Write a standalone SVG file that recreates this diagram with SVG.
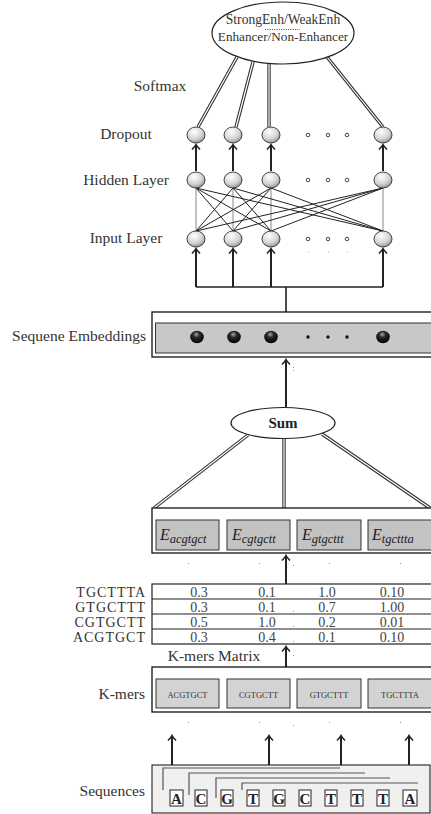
<svg xmlns="http://www.w3.org/2000/svg" width="431" height="814" viewBox="0 0 431 814">
  <style>
    .lbl { font-family: "Liberation Serif", "DejaVu Serif", serif; font-size: 15.5px; fill: #333; }
    .oval { font-family: "Liberation Serif", "DejaVu Serif", serif; font-size: 13.2px; fill: #333; text-anchor: middle; }
    .row { font-family: "Liberation Serif", "DejaVu Serif", serif; font-size: 14px; letter-spacing: 1px; fill: #333; text-anchor: end; }
    .num { font-family: "Liberation Serif", "DejaVu Serif", serif; font-size: 14px; fill: #444; text-anchor: middle; }
    .kmer { font-family: "Liberation Serif", "DejaVu Serif", serif; font-size: 8.5px; fill: #333; text-anchor: middle; }
    .emb { font-family: "Liberation Serif", "DejaVu Serif", serif; font-style: italic; fill: #222; }
    .base { font-family: "Liberation Serif", "DejaVu Serif", serif; font-weight: bold; font-size: 15px; fill: #222; text-anchor: middle; }
    .node { fill: url(#sphere); stroke: #333; stroke-width: 0.9; }
    .ball { fill: url(#blackball); }
    .dot { fill: #fff; stroke: #333; stroke-width: 0.9; }
    .speck { fill: #777; }
    .arrow { stroke: #222; stroke-width: 2; fill: none; marker-end: url(#head); }
    .dblo { stroke: #333; stroke-width: 3.4; fill: none; }
    .dbli { stroke: #fff; stroke-width: 1.2; fill: none; }
    .mesh { stroke: #222; stroke-width: 1; }
    .meshv { stroke: #888; stroke-width: 1; }
    .cell { fill: #c3c3c3; stroke: #333; stroke-width: 1; }
    .kcell { fill: #d3d3d3; stroke: #333; stroke-width: 1; }
    .frame { fill: #fff; stroke: #111; stroke-width: 1.3; }
    .bracket { stroke: #555; stroke-width: 1.2; fill: none; }
    .lbox { fill: #fff; stroke: #222; stroke-width: 1; }
  </style>
  <defs>
    <radialGradient id="sphere" cx="0.4" cy="0.3" r="0.75">
      <stop offset="0" stop-color="#ffffff"/>
      <stop offset="0.6" stop-color="#d4d4d4"/>
      <stop offset="1" stop-color="#8a8a8a"/>
    </radialGradient>
    <radialGradient id="blackball" cx="0.45" cy="0.3" r="0.7">
      <stop offset="0" stop-color="#a8a8a8"/>
      <stop offset="0.35" stop-color="#2a2a2a"/>
      <stop offset="1" stop-color="#000"/>
    </radialGradient>
    <marker id="head" viewBox="-6 -6 12 12" markerWidth="12" markerHeight="12" refX="0" refY="0" orient="auto" markerUnits="userSpaceOnUse">
      <path d="M-4.5,-4 Q-1.5,-1 0.5,0 Q-1.5,1 -4.5,4" stroke="#222" stroke-width="1.6" fill="none"/>
    </marker>
  </defs>

  <!-- connectors -->
  <g id="connectors">
    <!-- softmax double lines -->
    <g>
      <path class="dblo" d="M237,57 L198,127 M253,62 L236,127 M269,63 L269,127 M327,57 L383,127"/>
      <path class="dbli" d="M237,57 L198,127 M253,62 L236,127 M269,63 L269,127 M327,57 L383,127"/>
    </g>
    <!-- hidden to dropout -->
    <path class="arrow" d="M196,171 L196,145"/>
    <path class="arrow" d="M233,171 L233,145"/>
    <path class="arrow" d="M271,171 L271,145"/>
    <path class="arrow" d="M383,171 L383,145"/>
    <!-- fully connected input/hidden -->
    <g>
      <path class="meshv" d="M196,188 L196,231 M233,188 L233,231 M271,188 L271,231 M383,188 L383,231"/>
      <path class="mesh" d="M196,188 L233,231 M196,188 L271,231 M196,188 L383,231
                            M233,188 L196,231 M233,188 L271,231 M233,188 L383,231
                            M271,188 L196,231 M271,188 L233,231 M271,188 L383,231
                            M383,188 L196,231 M383,188 L233,231 M383,188 L271,231"/>
    </g>
    <!-- bus into input layer -->
    <path d="M196,287 L383,287 M286,287 L286,312" stroke="#222" stroke-width="1.6" fill="none"/>
    <path class="arrow" d="M196,287 L196,249"/>
    <path class="arrow" d="M233,287 L233,249"/>
    <path class="arrow" d="M271,287 L271,249"/>
    <path class="arrow" d="M383,287 L383,249"/>
    <!-- sum to embeddings -->
    <path class="arrow" d="M286,407 L286,360"/>
    <!-- E vectors to sum, double lines -->
    <g>
      <path class="dblo" d="M248,435 L154,508 M284,438 L284,508 M322,434 L430,508"/>
      <path class="dbli" d="M248,435 L154,508 M284,438 L284,508 M322,434 L430,508"/>
    </g>
    <!-- matrix to E vectors -->
    <path class="arrow" d="M286,584 L286,556"/>
    <!-- k-mers to matrix -->
    <path class="arrow" d="M286,667 L286,647"/>
    <!-- sequence windows to k-mers -->
    <path class="arrow" d="M172,768 L172,736"/>
    <path class="arrow" d="M269,773 L269,736"/>
    <path class="arrow" d="M341,778 L341,736"/>
    <path class="arrow" d="M409,783 L409,736"/>
  </g>

  <!-- output ellipse -->
  <g id="output">
    <ellipse cx="283" cy="33" rx="71" ry="31" fill="#fff" stroke="#222" stroke-width="1.2"/>
    <text class="oval" x="283" y="24" style="font-size:13.6px">StrongEnh/WeakEnh</text>
    <line x1="265" y1="29.5" x2="300" y2="29.5" stroke="#333" stroke-width="0.9" stroke-dasharray="1,1.3"/>
    <text class="oval" x="283" y="41">Enhancer/Non-Enhancer</text>
  </g>

  <g id="labels">
    <text class="lbl" x="160" y="91" text-anchor="middle">Softmax</text>
    <text class="lbl" x="126" y="139" text-anchor="middle">Dropout</text>
    <text class="lbl" x="126" y="185" text-anchor="middle">Hidden Layer</text>
    <text class="lbl" x="126" y="243" text-anchor="middle">Input Layer</text>
    <text class="lbl" x="146" y="341" text-anchor="end">Sequene Embeddings</text>
    <text class="lbl" x="214" y="661" text-anchor="middle">K-mers Matrix</text>
    <text class="lbl" x="145" y="699" text-anchor="end">K-mers</text>
    <text class="lbl" x="145" y="796" text-anchor="end">Sequences</text>
  </g>

  <!-- dropout layer -->
  <g id="dropout">
    <ellipse class="node" cx="196" cy="135" rx="9" ry="8"/>
    <ellipse class="node" cx="233" cy="135" rx="9" ry="8"/>
    <ellipse class="node" cx="271" cy="135" rx="9" ry="8"/>
    <circle class="dot" cx="308" cy="135" r="1.8"/>
    <circle class="dot" cx="328" cy="135" r="1.8"/>
    <circle class="dot" cx="347" cy="135" r="1.8"/>
    <ellipse class="node" cx="383" cy="135" rx="9" ry="8"/>
  </g>

  <!-- hidden layer -->
  <g id="hidden">
    <ellipse class="node" cx="196" cy="180" rx="9" ry="8"/>
    <ellipse class="node" cx="233" cy="180" rx="9" ry="8"/>
    <ellipse class="node" cx="271" cy="180" rx="9" ry="8"/>
    <circle class="dot" cx="308" cy="180" r="1.8"/>
    <circle class="dot" cx="328" cy="180" r="1.8"/>
    <circle class="dot" cx="347" cy="180" r="1.8"/>
    <ellipse class="node" cx="383" cy="180" rx="9" ry="8"/>
  </g>

  <!-- input layer -->
  <g id="input">
    <ellipse class="node" cx="196" cy="239" rx="9" ry="8"/>
    <ellipse class="node" cx="233" cy="239" rx="9" ry="8"/>
    <ellipse class="node" cx="271" cy="239" rx="9" ry="8"/>
    <circle class="dot" cx="308" cy="239" r="1.8"/>
    <circle class="dot" cx="328" cy="239" r="1.8"/>
    <circle class="dot" cx="347" cy="239" r="1.8"/>
    <ellipse class="node" cx="383" cy="239" rx="9" ry="8"/>
    <rect class="speck" x="308" y="251.5" width="0.8" height="0.8"/>
    <rect class="speck" x="328" y="251.5" width="0.8" height="0.8"/>
    <rect class="speck" x="347" y="251.5" width="0.8" height="0.8"/>
  </g>

  <!-- sequence embeddings -->
  <g id="embeddings">
    <rect class="frame" x="152" y="312" width="285" height="45"/>
    <rect x="155.5" y="323" width="280" height="30" fill="#c8c8c8" stroke="#333" stroke-width="1"/>
    <ellipse class="ball" cx="197" cy="337" rx="6.8" ry="6.2"/>
    <ellipse class="ball" cx="234" cy="337" rx="6.8" ry="6.2"/>
    <ellipse class="ball" cx="271" cy="337" rx="6.8" ry="6.2"/>
    <circle cx="308" cy="337" r="1.7" fill="#111"/>
    <circle cx="328" cy="337" r="1.7" fill="#111"/>
    <circle cx="347" cy="337" r="1.7" fill="#111"/>
    <ellipse class="ball" cx="383" cy="337" rx="6.8" ry="6.2"/>
    <rect class="speck" x="293" y="367" width="0.9" height="0.9"/>
    <rect class="speck" x="293" y="370" width="0.9" height="0.9"/>
  </g>

  <!-- sum -->
  <g id="sum">
    <ellipse cx="283" cy="423" rx="52" ry="15.5" fill="#fff" stroke="#222" stroke-width="1.2"/>
    <text x="283" y="428" text-anchor="middle" font-family="Liberation Serif, DejaVu Serif, serif" font-weight="bold" font-size="15" fill="#222">Sum</text>
  </g>

  <!-- k-mer embedding vectors -->
  <g id="kmer-vectors">
    <rect class="frame" x="152" y="508" width="285" height="45"/>
    <rect class="cell" x="156" y="520" width="63" height="30"/>
    <rect class="cell" x="227" y="520" width="63" height="30"/>
    <rect class="cell" x="297" y="520" width="64" height="30"/>
    <rect class="cell" x="368" y="520" width="66" height="30"/>
    <text class="emb" x="160" y="540" font-size="16">E<tspan font-size="12.5" dy="3">acgtgct</tspan></text>
    <text class="emb" x="232" y="540" font-size="16">E<tspan font-size="12.5" dy="3">cgtgctt</tspan></text>
    <text class="emb" x="302" y="540" font-size="16">E<tspan font-size="12.5" dy="3">gtgcttt</tspan></text>
    <text class="emb" x="372" y="540" font-size="16">E<tspan font-size="12.5" dy="3">tgcttta</tspan></text>
    <rect class="speck" x="188" y="563" width="0.9" height="0.9"/>
    <rect class="speck" x="259" y="563" width="0.9" height="0.9"/>
    <rect class="speck" x="293" y="565" width="0.9" height="0.9"/>
    <rect class="speck" x="329" y="563" width="0.9" height="0.9"/>
    <rect class="speck" x="400" y="563" width="0.9" height="0.9"/>
  </g>

  <!-- k-mers matrix -->
  <g id="matrix">
    <rect x="152" y="584" width="285" height="60" fill="#fff" stroke="#222" stroke-width="1.2"/>
    <path d="M152,599 L437,599 M152,614 L437,614 M152,629 L437,629" stroke="#222" stroke-width="1.2"/>
    <text class="row" x="146" y="596.5">TGCTTTA</text>
    <text class="row" x="146" y="611.5">GTGCTTT</text>
    <text class="row" x="146" y="626.5">CGTGCTT</text>
    <text class="row" x="146" y="641.5">ACGTGCT</text>
    <text class="num" x="199" y="597">0.3</text>
    <text class="num" x="267" y="597">0.1</text>
    <text class="num" x="327" y="597">1.0</text>
    <text class="num" x="392" y="597">0.10</text>
    <text class="num" x="199" y="612">0.3</text>
    <text class="num" x="267" y="612">0.1</text>
    <text class="num" x="327" y="612">0.7</text>
    <text class="num" x="392" y="612">1.00</text>
    <text class="num" x="199" y="627">0.5</text>
    <text class="num" x="267" y="627">1.0</text>
    <text class="num" x="327" y="627">0.2</text>
    <text class="num" x="392" y="627">0.01</text>
    <text class="num" x="199" y="642">0.3</text>
    <text class="num" x="267" y="642">0.4</text>
    <text class="num" x="327" y="642">0.1</text>
    <text class="num" x="392" y="642">0.10</text>
    <rect class="speck" x="293" y="611" width="0.9" height="0.9"/>
    <rect class="speck" x="293" y="626" width="0.9" height="0.9"/>
    <rect class="speck" x="293" y="641" width="0.9" height="0.9"/>
    <rect class="speck" x="293" y="655" width="0.9" height="0.9"/>
  </g>

  <!-- k-mers -->
  <g id="kmers">
    <rect class="frame" x="152" y="667" width="285" height="45"/>
    <rect class="kcell" x="156" y="679" width="63" height="29"/>
    <rect class="kcell" x="227" y="679" width="63" height="29"/>
    <rect class="kcell" x="297" y="679" width="64" height="29"/>
    <rect class="kcell" x="368" y="679" width="66" height="29"/>
    <text class="kmer" x="187.5" y="698">ACGTGCT</text>
    <text class="kmer" x="258.5" y="698">CGTGCTT</text>
    <text class="kmer" x="329" y="698">GTGCTTT</text>
    <text class="kmer" x="400" y="698">TGCTTTA</text>
    <rect class="speck" x="188" y="722" width="0.9" height="0.9"/>
    <rect class="speck" x="259" y="722" width="0.9" height="0.9"/>
    <rect class="speck" x="293" y="725" width="0.9" height="0.9"/>
    <rect class="speck" x="329" y="722" width="0.9" height="0.9"/>
    <rect class="speck" x="400" y="722" width="0.9" height="0.9"/>
  </g>

  <!-- input sequence -->
  <g id="sequence">
    <rect x="152" y="765" width="278" height="48" fill="#f0f0f0" stroke="#222" stroke-width="1.1"/>
    <path class="bracket" d="M163,790 L163,768 L340,768"/>
    <path class="bracket" d="M189,795 L189,773 L365,773"/>
    <path class="bracket" d="M216,798 L216,778 L390,778"/>
    <path class="bracket" d="M242,790 L242,783 L418,783"/>
    <rect class="lbox" x="170" y="790" width="13" height="16"/>
    <rect class="lbox" x="195" y="790" width="12" height="16"/>
    <rect class="lbox" x="221" y="790" width="12" height="16"/>
    <rect class="lbox" x="247" y="790" width="12" height="16"/>
    <rect class="lbox" x="273" y="790" width="12" height="16"/>
    <rect class="lbox" x="299" y="790" width="12" height="16"/>
    <rect class="lbox" x="325" y="790" width="12" height="16"/>
    <rect class="lbox" x="351" y="790" width="12" height="16"/>
    <rect class="lbox" x="377" y="790" width="12" height="16"/>
    <rect class="lbox" x="403" y="790" width="14" height="16"/>
    <text class="base" x="176.5" y="804">A</text>
    <text class="base" x="201" y="804">C</text>
    <text class="base" x="227" y="804">G</text>
    <text class="base" x="253" y="804">T</text>
    <text class="base" x="279" y="804">G</text>
    <text class="base" x="305" y="804">C</text>
    <text class="base" x="331" y="804">T</text>
    <text class="base" x="357" y="804">T</text>
    <text class="base" x="383" y="804">T</text>
    <text class="base" x="410" y="804">A</text>
  </g>
</svg>
